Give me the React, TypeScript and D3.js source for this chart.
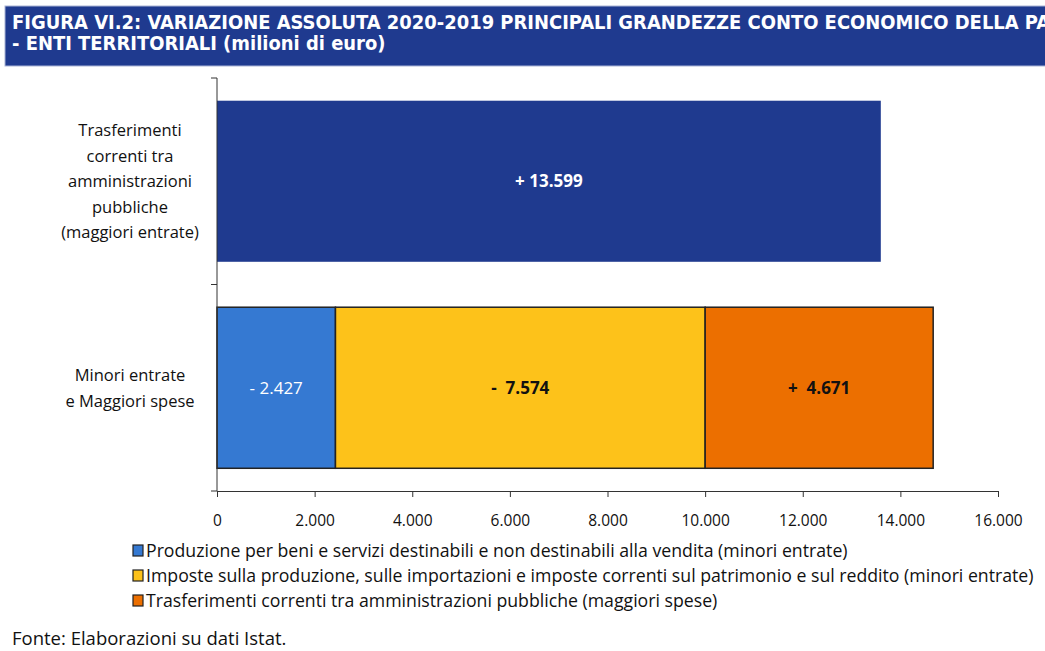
import * as d3 from 'd3';
import { useEffect, useRef } from 'react';

const categories = ['Trasferimenti', 'Minori'];
const categoryLabels = [
  ['Trasferimenti', 'correnti tra', 'amministrazioni', 'pubbliche', '(maggiori entrate)'],
  ['Minori entrate', 'e Maggiori spese'],
];
const topBarValue = 13599;
const topBarLabel = '+ 13.599';
const stackKeys = ['produzione', 'imposte', 'trasferimenti'];
const stackValues = [2427, 7574, 4671];
const stackLabels = ['- 2.427', '-  7.574', '+  4.671'];
const legendLabels = [
  'Produzione per beni e servizi destinabili e non destinabili alla vendita (minori entrate)',
  'Imposte sulla produzione, sulle importazioni e imposte correnti sul patrimonio e sul reddito (minori entrate)',
  'Trasferimenti correnti tra amministrazioni pubbliche (maggiori spese)',
];
const xTicks = [0, 2000, 4000, 6000, 8000, 10000, 12000, 14000, 16000];

const colors = ['#3579d2', '#fdc21a', '#ec6f00'];
const topColor = '#1f3a8f';
const font = "'Open Sans', 'Noto Sans', sans-serif";

export default function App() {
  const ref = useRef<SVGSVGElement>(null);

  useEffect(() => {
    const svg = d3.select(ref.current);
    svg.selectAll('*').remove();

    // banner title (first line runs past the right edge, as in the source)
    svg.append('rect').attr('x', 5).attr('y', 6).attr('width', 1045).attr('height', 60)
      .attr('fill', topColor).attr('stroke', '#aab4d6').attr('stroke-width', 1);
    const title = svg.append('text').attr('fill', '#fff').attr('font-weight', 'bold')
      .attr('font-family', "'DejaVu Sans Condensed', sans-serif")
      .attr('font-size', 17.5).attr('transform', 'translate(12,0) scale(1.14,1.12)');
    title.append('tspan').attr('x', 0).attr('y', 25.5)
      .text('FIGURA VI.2: VARIAZIONE ASSOLUTA 2020-2019 PRINCIPALI GRANDEZZE CONTO ECONOMICO DELLA PA');
    title.append('tspan').attr('x', 0).attr('y', 45)
      .text('- ENTI TERRITORIALI (milioni di euro)');

    const x = d3.scaleLinear().domain([0, 16000]).range([217, 998]);
    const y = d3.scaleBand().domain(categories).range([78, 491]).paddingInner(0.22).paddingOuter(0.11);

    // top bar
    svg.append('rect').attr('x', x(0)).attr('y', y('Trasferimenti')!)
      .attr('width', x(topBarValue) - x(0)).attr('height', y.bandwidth()).attr('fill', topColor);
    svg.append('text').attr('x', (x(0) + x(topBarValue)) / 2).attr('y', y('Trasferimenti')! + y.bandwidth() / 2 + 6)
      .attr('text-anchor', 'middle').attr('fill', '#fff').attr('font-weight', 'bold')
      .attr('font-family', font).attr('font-size', 17).text(topBarLabel);

    // stacked bar
    const row: any = {};
    stackKeys.forEach((k, i) => (row[k] = stackValues[i]));
    const series = d3.stack().keys(stackKeys)([row]);
    series.forEach((s, i) => {
      const d = s[0];
      svg.append('rect').attr('x', x(d[0])).attr('y', y('Minori')!)
        .attr('width', x(d[1]) - x(d[0])).attr('height', y.bandwidth())
        .attr('fill', colors[i]).attr('stroke', '#222').attr('stroke-width', 1.5);
      svg.append('text').attr('x', (x(d[0]) + x(d[1])) / 2).attr('y', y('Minori')! + y.bandwidth() / 2 + 6)
        .attr('text-anchor', 'middle').attr('fill', i === 0 ? '#fff' : '#111')
        .attr('font-weight', i === 0 ? 'normal' : 'bold').attr('xml:space', 'preserve')
        .attr('font-family', font).attr('font-size', 17).text(stackLabels[i]);
    });

    // y axis
    const yAxisLine = svg.append('g').attr('stroke', '#333').attr('stroke-width', 1);
    yAxisLine.append('line').attr('x1', 217).attr('x2', 217).attr('y1', 78).attr('y2', 491);
    [78, (y('Trasferimenti')! + y.bandwidth() + y('Minori')!) / 2, 491].forEach((ty) => {
      yAxisLine.append('line').attr('x1', 211).attr('x2', 217).attr('y1', ty).attr('y2', ty);
    });

    // category labels
    categoryLabels.forEach((lines, ci) => {
      const cy = y(categories[ci])! + y.bandwidth() / 2;
      const lh = 25.5;
      const t = svg.append('text').attr('text-anchor', 'middle').attr('font-family', font)
        .attr('font-size', 16.5).attr('fill', '#111');
      lines.forEach((l, li) => {
        t.append('tspan').attr('x', 130).attr('y', cy + (li - (lines.length - 1) / 2) * lh + 6).text(l);
      });
    });

    // x axis
    const xAxis = svg.append('g').attr('transform', 'translate(0,491)')
      .call(d3.axisBottom(x).tickValues(xTicks).tickSize(6)
        .tickFormat((d) => d3.format(',')(d as number).replace(/,/g, '.')));
    xAxis.select('.domain').attr('stroke', '#333');
    xAxis.selectAll('line').attr('stroke', '#333');
    xAxis.selectAll('text').attr('font-family', font).attr('font-size', 15.5).attr('fill', '#111').attr('y', 19).attr('dy', '1em');

    // legend
    legendLabels.forEach((l, i) => {
      const ly = 557 + i * 25;
      svg.append('rect').attr('x', 133).attr('y', ly - 12).attr('width', 10).attr('height', 11)
        .attr('fill', colors[i]).attr('stroke', '#222').attr('stroke-width', 1.2);
      svg.append('text').attr('x', 146).attr('y', ly).attr('font-family', font).attr('font-size', 17.7)
        .attr('fill', '#111').text(l);
    });

    svg.append('text').attr('x', 12).attr('y', 645).attr('font-family', font).attr('font-size', 18.5)
      .attr('fill', '#111').text('Fonte: Elaborazioni su dati Istat.');
  }, []);

  return (
    <svg ref={ref} width={1045} height={651}
      style={{ position: 'absolute', left: 0, top: 0, background: '#fff', display: 'block' }} />
  );
}
